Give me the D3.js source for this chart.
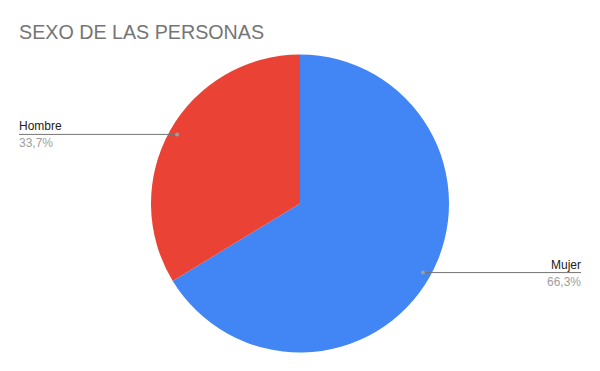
<!DOCTYPE html>
<html>
<head>
<meta charset="utf-8">
<script src="https://cdn.jsdelivr.net/npm/d3@7"></script>
<style>
	body { margin: 0; background: #fff; }
	text { font-family: Arial, "Liberation Sans", sans-serif; }
</style>
</head>
<body>
<svg id="chart" width="600" height="371"></svg>
<script>
var categories = ["Mujer", "Hombre"];
var values = [66.3, 33.7];
var pctLabels = ["66,3%", "33,7%"];
var colors = ["#4285f4", "#ea4335"];

var width = 600, height = 371;
var cx = 300, cy = 203.5, radius = 149;

var svg = d3.select("#chart");

svg.append("rect")
	.attr("width", width)
	.attr("height", height)
	.attr("fill", "#fff");

svg.append("text")
	.attr("x", 19)
	.attr("y", 39)
	.attr("fill", "#757575")
	.attr("font-size", 19.7)
	.text("SEXO DE LAS PERSONAS");

var data = categories.map(function(c, i){
	return { name: c, value: values[i], pct: pctLabels[i], color: colors[i] };
});

var pie = d3.pie()
	.sort(null)
	.value(function(d){ return d.value; });

var arc = d3.arc()
	.innerRadius(0)
	.outerRadius(radius);

var g = svg.append("g").attr("transform", "translate(" + cx + "," + cy + ")");

var arcs = pie(data);

g.selectAll(".slice")
	.data(arcs)
	.enter().append("path")
	.attr("class", "slice")
	.attr("d", arc)
	.attr("fill", function(d){ return d.data.color; });

// leader lines
var labelR = 141;
arcs.forEach(function(d){
	var mid = (d.startAngle + d.endAngle) / 2;
	var px = labelR * Math.sin(mid);
	var py = -labelR * Math.cos(mid);
	var right = px > 0;
	var endX = right ? 581 - cx : 19 - cx;

	g.append("line")
		.attr("x1", px).attr("y1", py)
		.attr("x2", endX).attr("y2", py)
		.attr("stroke", "#757575")
		.attr("stroke-width", 1);

	g.append("circle")
		.attr("cx", px).attr("cy", py)
		.attr("r", 2)
		.attr("fill", "#9e9e9e");

	g.append("text")
		.attr("x", endX)
		.attr("y", py - 4)
		.attr("text-anchor", right ? "end" : "start")
		.attr("font-size", 12)
		.attr("fill", "#222")
		.text(d.data.name);

	g.append("text")
		.attr("x", endX)
		.attr("y", py + 13)
		.attr("text-anchor", right ? "end" : "start")
		.attr("font-size", 12)
		.attr("fill", "#9e9e9e")
		.text(d.data.pct);
});
</script>
</body>
</html>
